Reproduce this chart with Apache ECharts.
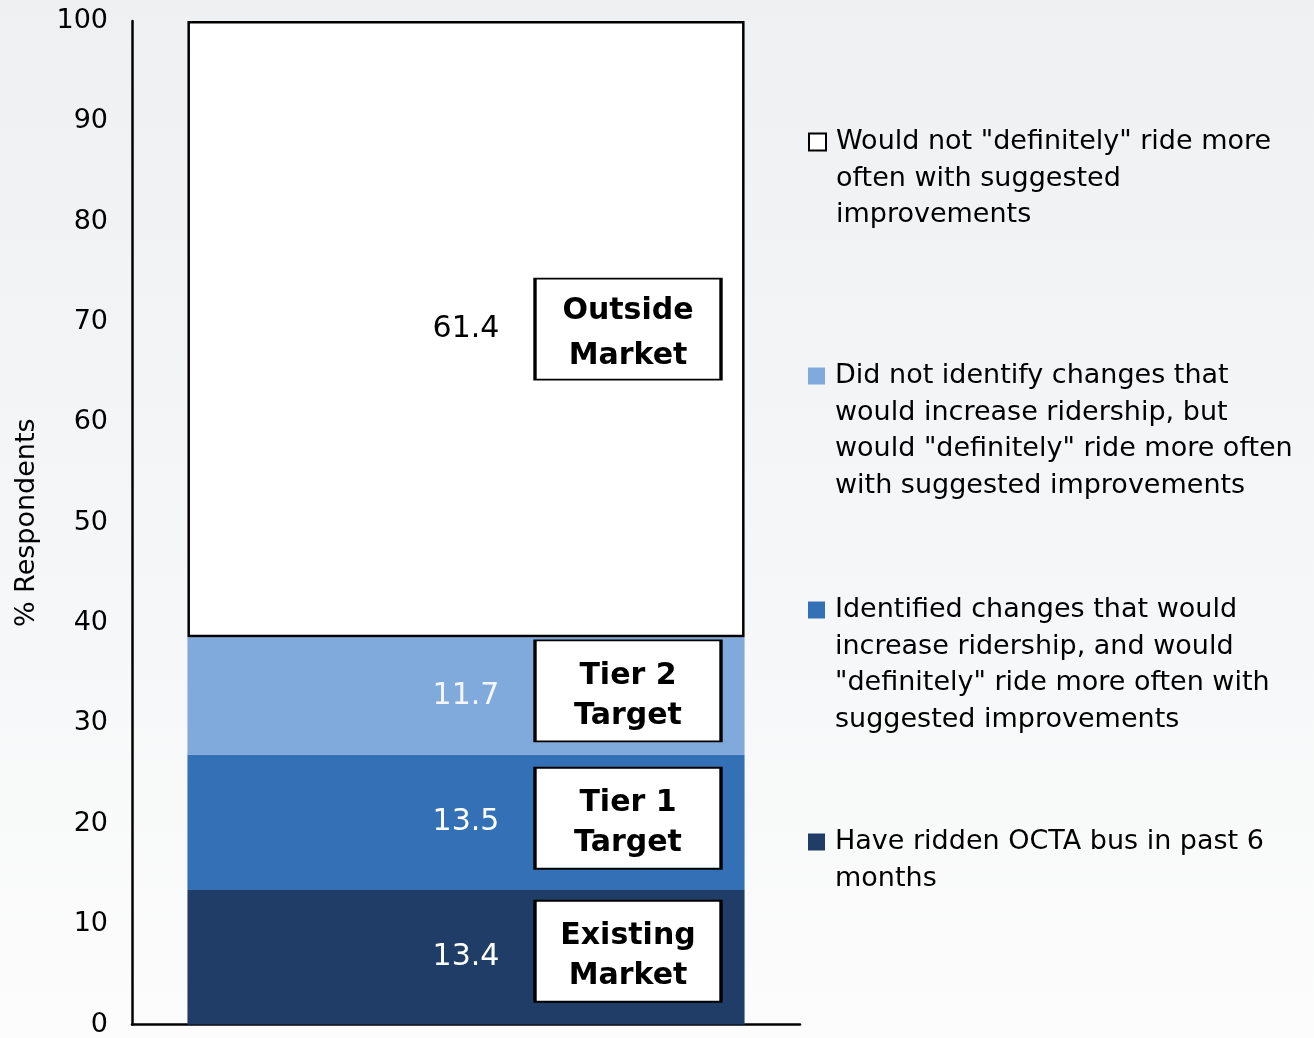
<!DOCTYPE html>
<html>
<head>
<meta charset="utf-8">
<script src="https://cdn.jsdelivr.net/npm/echarts@6/dist/echarts.min.js"></script>
<style>
  html, body { margin: 0; padding: 0; overflow: hidden; }
  #chart { width: 1314px; height: 1038px; }
</style>
</head>
<body>
<div id="chart"></div>
<script>
// Segments stacked from the bottom up
const segmentNames = [
  'Have ridden OCTA bus in past 6 months',
  'Identified changes that would increase ridership, and would "definitely" ride more often with suggested improvements',
  'Did not identify changes that would increase ridership, but would "definitely" ride more often with suggested improvements',
  'Would not "definitely" ride more often with suggested improvements'
];
const legendLines = [
  'Have ridden OCTA bus in past 6\nmonths',
  'Identified changes that would\nincrease ridership, and would\n"definitely" ride more often with\nsuggested improvements',
  'Did not identify changes that\nwould increase ridership, but\nwould "definitely" ride more often\nwith suggested improvements',
  'Would not "definitely" ride more\noften with suggested\nimprovements'
];
const segmentValues = [13.4, 13.5, 11.7, 61.4];
const boxLabels = ['Existing\nMarket', 'Tier 1\nTarget', 'Tier 2\nTarget', 'Outside\nMarket'];
const categories = ['All respondents'];
const yTicks = [0, 10, 20, 30, 40, 50, 60, 70, 80, 90, 100];

const fills = ['#1f3d67', '#3470b5', '#80aadc', '#ffffff'];
const valueColors = ['#ffffff', '#ffffff', '#f4f6fa', '#000000'];
const legendFirstLine = [842, 610, 376, 142];
const boxShift = [-6, -4, -5, 0];
const LH = 36.5;
const FONT = 'DejaVu Sans';

const series = [];
let base = 0;
segmentValues.forEach((v, i) => {
  const mid = base + v / 2;
  base += v;
  series.push({
    name: segmentNames[i],
    type: 'bar',
    stack: 'total',
    barWidth: '83.4%',
    data: [v],
    itemStyle: i === 3
      ? { color: fills[i], borderColor: '#000', borderWidth: 2.5 }
      : { color: fills[i] },
    label: {
      show: true,
      position: 'inside',
      formatter: p => p.value.toFixed(1),
      color: valueColors[i],
      fontFamily: FONT,
      fontSize: 30
    },
    markPoint: {
      symbol: 'rect',
      symbolSize: [186, 101],
      symbolOffset: [162, boxShift[i]],
      itemStyle: { color: '#ffffff', borderColor: '#000', borderWidth: 2.5 },
      label: {
        show: true,
        position: 'inside',
        offset: [0, 5],
        formatter: '{b}',
        color: '#000',
        fontFamily: FONT,
        fontWeight: 'bold',
        fontSize: 30,
        lineHeight: i === 3 ? 45 : 40
      },
      data: [{ name: boxLabels[i], coord: [0, mid] }]
    }
  });
});

// One legend per entry so each can sit at its own height; leading blank
// lines keep the marker level with the first line of the text.
const legends = segmentNames.map((name, i) => {
  const n = legendLines[i].split('\n').length;
  return {
    data: [{ name: name, icon: 'rect' }],
    left: 808,
    top: legendFirstLine[i] - (2 * n - 1) * LH / 2,
    orient: 'vertical',
    padding: 0,
    itemWidth: 17,
    itemHeight: 17,
    selectedMode: false,
    formatter: () => ' \n'.repeat(n - 1) + legendLines[i],
    textStyle: {
      fontFamily: FONT,
      fontSize: 27,
      lineHeight: LH,
      color: '#000',
      padding: [0, 0, 0, 5]
    }
  };
});

const chart = echarts.init(document.getElementById('chart'));
chart.setOption({
  animation: false,
  backgroundColor: {
    type: 'linear', x: 0, y: 0, x2: 0, y2: 1,
    colorStops: [
      { offset: 0, color: '#eef0f2' },
      { offset: 0.6, color: '#f6f7f8' },
      { offset: 1, color: '#fcfcfc' }
    ]
  },
  legend: legends,
  grid: { left: 132, right: 514, top: 21, bottom: 10, containLabel: false },
  xAxis: {
    type: 'category',
    data: categories,
    axisLine: { lineStyle: { color: '#000', width: 2.5 } },
    axisTick: { show: false },
    axisLabel: { show: false }
  },
  yAxis: {
    type: 'value',
    min: yTicks[0],
    max: yTicks[yTicks.length - 1],
    interval: 10,
    name: '% Respondents',
    nameLocation: 'middle',
    nameGap: 92,
    nameTextStyle: { fontFamily: FONT, fontSize: 27, color: '#000' },
    axisLine: { show: true, lineStyle: { color: '#000', width: 2.5 } },
    axisTick: { show: false },
    splitLine: { show: false },
    axisLabel: { fontFamily: FONT, fontSize: 27, color: '#000', margin: 24 }
  },
  series: series
});
</script>
</body>
</html>
